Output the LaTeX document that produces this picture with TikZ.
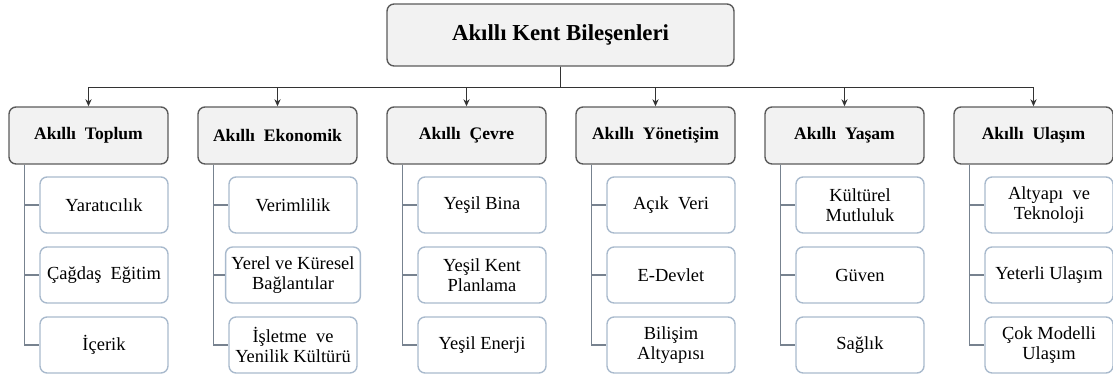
\documentclass[tikz,border=0pt]{standalone}
\usepackage{fontspec}
\setmainfont{Liberation Serif}
\usetikzlibrary{arrows.meta}

\definecolor{boxfill}{HTML}{F2F2F2}
\definecolor{boxline}{HTML}{5A5A5A}
\definecolor{subline}{HTML}{A9BACD}
\definecolor{linkline}{HTML}{77828F}

\tikzset{
  rootbox/.style={draw=boxline,fill=boxfill,line width=0.8pt,rounded corners=4pt,
    minimum width=6.94cm,minimum height=1.24cm,font=\fontsize{13}{15}\selectfont\bfseries},
  catbox/.style={draw=boxline,fill=boxfill,line width=0.8pt,rounded corners=4pt,
    minimum width=3.18cm,minimum height=1.14cm,font=\fontsize{10}{12}\selectfont\bfseries},
  subbox/.style={draw=subline,fill=white,line width=0.8pt,rounded corners=4pt,
    minimum width=2.56cm,minimum height=1.12cm,align=center,
    font=\fontsize{10.5}{11.5}\selectfont},
  mainlink/.style={draw=black!80,line width=0.6pt,-{Stealth[length=4pt,width=3.5pt]}},
  sublink/.style={draw=linkline,line width=0.6pt}
}

\begin{document}
\begin{tikzpicture}[x=0.02cm,y=-0.02cm]
        \useasboundingbox (0,0) rectangle (1113,378);

        \node[rootbox] (kent) at (560.5,35) {Akıllı Kent Bileşenleri};

        \node[catbox] (c1) at (88.5,135.5) {Akıllı\ \ Toplum};
        \node[catbox] (c2) at (277.5,135.5) {Akıllı\ \ Ekonomik};
        \node[catbox] (c3) at (466.5,135.5) {Akıllı\ \ Çevre};
        \node[catbox] (c4) at (655.5,135.5) {Akıllı\ \ Yönetişim};
        \node[catbox] (c5) at (844.5,135.5) {Akıllı\ \ Yaşam};
        \node[catbox] (c6) at (1033.5,135.5) {Akıllı\ \ Ulaşım};

        \node[subbox] (s11) at (104,205) {Yaratıcılık};
        \node[subbox] (s12) at (104,275) {Çağdaş\ \ Eğitim};
        \node[subbox] (s13) at (104,345) {İçerik};

        \node[subbox] (s21) at (293,205) {Verimlilik};
        \node[subbox] (s22) at (293,275) {Yerel ve Küresel\\Bağlantılar};
        \node[subbox] (s23) at (293,345) {İşletme\ \ ve\\Yenilik Kültürü};

        \node[subbox] (s31) at (482,205) {Yeşil Bina};
        \node[subbox] (s32) at (482,275) {Yeşil Kent\\Planlama};
        \node[subbox] (s33) at (482,345) {Yeşil Enerji};

        \node[subbox] (s41) at (671,205) {Açık\ \ Veri};
        \node[subbox] (s42) at (671,275) {E-Devlet};
        \node[subbox] (s43) at (671,345) {Bilişim\\Altyapısı};

        \node[subbox] (s51) at (860,205) {Kültürel\\Mutluluk};
        \node[subbox] (s52) at (860,275) {Güven};
        \node[subbox] (s53) at (860,345) {Sağlık};

        \node[subbox] (s61) at (1049,205) {Altyapı\ \ ve\\Teknoloji};
        \node[subbox] (s62) at (1049,275) {Yeterli Ulaşım};
        \node[subbox] (s63) at (1049,345) {Çok Modelli\\Ulaşım};

        % root to categories
        \draw[mainlink] (kent.south) -- ++(0,21) -| (c1.north);
        \draw[mainlink] (kent.south) -- ++(0,21) -| (c2.north);
        \draw[mainlink] (kent.south) -- ++(0,21) -| (c3.north);
        \draw[mainlink] (kent.south) -- ++(0,21) -| (c4.north);
        \draw[mainlink] (kent.south) -- ++(0,21) -| (c5.north);
        \draw[mainlink] (kent.south) -- ++(0,21) -| (c6.north);

        % categories to items
        \draw[sublink] ([xshift=0.32cm]c1.south west) |- (s11.west);
        \draw[sublink] ([xshift=0.32cm]c1.south west) |- (s12.west);
        \draw[sublink] ([xshift=0.32cm]c1.south west) |- (s13.west);
        \draw[sublink] ([xshift=0.32cm]c2.south west) |- (s21.west);
        \draw[sublink] ([xshift=0.32cm]c2.south west) |- (s22.west);
        \draw[sublink] ([xshift=0.32cm]c2.south west) |- (s23.west);
        \draw[sublink] ([xshift=0.32cm]c3.south west) |- (s31.west);
        \draw[sublink] ([xshift=0.32cm]c3.south west) |- (s32.west);
        \draw[sublink] ([xshift=0.32cm]c3.south west) |- (s33.west);
        \draw[sublink] ([xshift=0.32cm]c4.south west) |- (s41.west);
        \draw[sublink] ([xshift=0.32cm]c4.south west) |- (s42.west);
        \draw[sublink] ([xshift=0.32cm]c4.south west) |- (s43.west);
        \draw[sublink] ([xshift=0.32cm]c5.south west) |- (s51.west);
        \draw[sublink] ([xshift=0.32cm]c5.south west) |- (s52.west);
        \draw[sublink] ([xshift=0.32cm]c5.south west) |- (s53.west);
        \draw[sublink] ([xshift=0.32cm]c6.south west) |- (s61.west);
        \draw[sublink] ([xshift=0.32cm]c6.south west) |- (s62.west);
        \draw[sublink] ([xshift=0.32cm]c6.south west) |- (s63.west);
    \end{tikzpicture}
\end{document}
